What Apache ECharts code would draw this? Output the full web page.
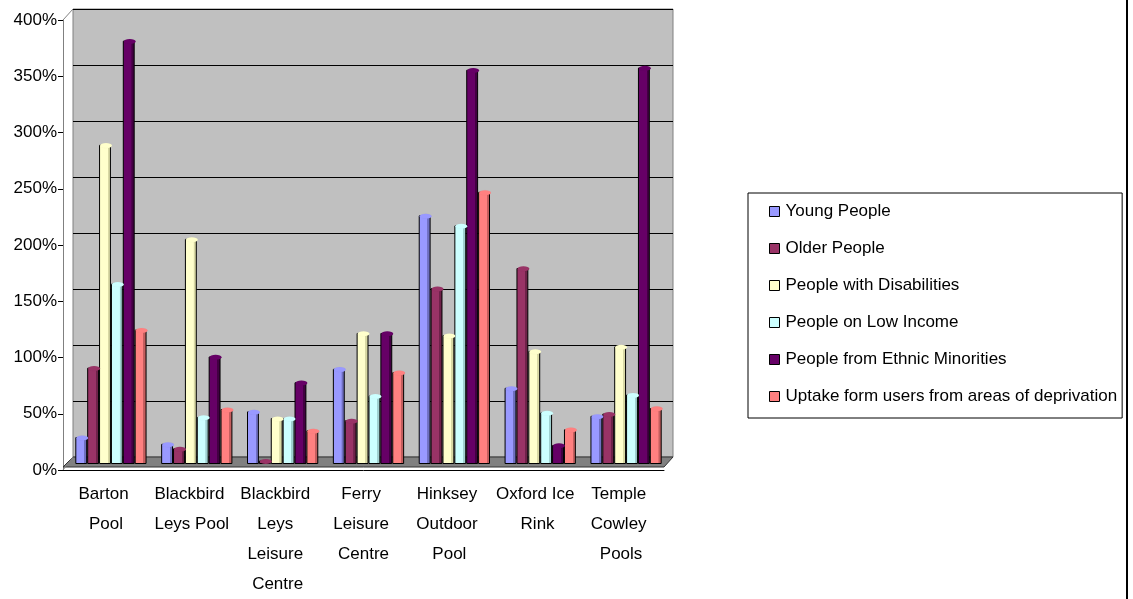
<!DOCTYPE html>
<html>
<head>
<meta charset="utf-8">
<title>Uptake by group</title>
<script src="https://cdn.jsdelivr.net/npm/echarts@6/dist/echarts.min.js"></script>
<style>
    html, body { margin: 0; padding: 0; background: #fff; }
    #main { width: 1133px; height: 599px; }
</style>
</head>
<body>
<div id="main"></div>
<script>
// 数据
var categories = ['Barton Pool', 'Blackbird Leys Pool', 'Blackbird Leys Leisure Centre', 'Ferry Leisure Centre',
    'Hinksey Outdoor Pool', 'Oxford Ice Rink', 'Temple Cowley Pools'];
var seriesNames = ['Young People', 'Older People', 'People with Disabilities', 'People on Low Income',
    'People from Ethnic Minorities', 'Uptake form users from areas of deprivation'];
var young = [24, 18, 47, 85, 222, 68, 43];
var older = [86, 14, 3, 39, 157, 175, 45];
var disabilities = [285, 201, 41, 117, 115, 101, 105];
var lowIncome = [161, 42, 41, 61, 213, 46, 62];
var ethnic = [378, 96, 73, 117, 352, 17, 354];
var deprivation = [120, 49, 30, 82, 243, 31, 50];
var yMax = 400, yStep = 50;

(function () {
    var myChart = echarts.init(document.getElementById('main'));
    var font = 'Liberation Sans, Arial, sans-serif';
    var colors = ['#9999FF', '#993366', '#FFFFCC', '#CCFFFF', '#660066', '#FF8080'];
    var darks = ['#6f6fc0', '#6e2249', '#d8d8a4', '#9fd0d0', '#420042', '#c45e5e'];
    var values = [young, older, disabilities, lowIncome, ethnic, deprivation];

    function barColor(i) {
        return {
            type: 'linear', x: 0, y: 0, x2: 1, y2: 0,
            colorStops: [
                {offset: 0, color: colors[i]},
                {offset: 0.72, color: colors[i]},
                {offset: 0.74, color: darks[i]},
                {offset: 1, color: darks[i]}
            ]
        };
    }

    var series = [];
    for (var i = 0; i < values.length; i++) {
        series.push({
            name: seriesNames[i],
            type: 'bar',
            xAxisIndex: 0,
            yAxisIndex: 0,
            barGap: '0%',
            barCategoryGap: '17%',
            z: 3,
            itemStyle: {color: barColor(i), borderColor: '#000', borderWidth: 1},
            data: values[i]
        });
    }
    // 顶部椭圆
    for (var j = 0; j < values.length; j++) {
        series.push({
            name: seriesNames[j],
            type: 'pictorialBar',
            xAxisIndex: 0,
            yAxisIndex: 0,
            barGap: '0%',
            barCategoryGap: '17%',
            symbol: 'circle',
            symbolSize: ['100%', 5],
            symbolPosition: 'end',
            symbolOffset: [1, '-40%'],
            z: 4,
            itemStyle: {color: colors[j], borderColor: '#000', borderWidth: 1},
            data: values[j]
        });
    }

    var option = {
        animation: false,
        color: colors,
        grid: [
            // 柱子 (中间深度)
            {left: 68, right: 464, top: 16, bottom: 135},
            // 前面的坐标轴
            {left: 63, right: 469, top: 20, bottom: 129},
            // 后墙
            {left: 73, right: 460, top: 9, bottom: 142, show: true,
                backgroundColor: '#C0C0C0', borderColor: '#808080', borderWidth: 1}
        ],
        legend: {
            orient: 'vertical',
            left: 748,
            top: 193,
            padding: [10, 5, 13, 21],
            itemGap: 20,
            itemWidth: 10,
            itemHeight: 10,
            borderColor: '#000',
            borderWidth: 1,
            backgroundColor: '#fff',
            data: seriesNames.map(function (n, k) {
                return {name: n, icon: 'rect', itemStyle: {color: colors[k], borderColor: '#000', borderWidth: 1}};
            }),
            textStyle: {fontFamily: font, fontSize: 17, lineHeight: 17, color: '#000', padding: [0, 0, 0, 1]}
        },
        xAxis: [
            {gridIndex: 0, type: 'category', data: categories, show: false},
            {
                gridIndex: 1, type: 'category', data: categories,
                axisLine: {lineStyle: {color: '#000', width: 1}},
                axisTick: {length: 6, lineStyle: {color: '#000'}},
                axisLabel: {
                    color: '#000', fontFamily: font, fontSize: 17, lineHeight: 30, margin: 9,
                    width: 82, overflow: 'break', interval: 0
                }
            },
            {gridIndex: 2, type: 'category', data: categories, show: false}
        ],
        yAxis: [
            {gridIndex: 0, type: 'value', min: 0, max: yMax, interval: yStep, show: false},
            {
                gridIndex: 1, type: 'value', min: 0, max: yMax, interval: yStep,
                axisLine: {show: true, lineStyle: {color: '#808080'}},
                axisTick: {show: true, length: 5, lineStyle: {color: '#000'}},
                splitLine: {show: false},
                axisLabel: {
                    color: '#000', fontFamily: font, fontSize: 17, margin: 6,
                    formatter: '{value}%'
                }
            },
            {
                gridIndex: 2, type: 'value', min: 0, max: yMax, interval: yStep,
                axisLine: {show: false}, axisTick: {show: false}, axisLabel: {show: false},
                splitLine: {show: true, lineStyle: {color: '#000', width: 1}}
            }
        ],
        graphic: [
            // 地板
            {type: 'polygon', z: 1, shape: {points: [[63, 467], [664, 467], [673, 457], [73, 457]]},
                style: {fill: '#808080', stroke: '#333', lineWidth: 1}},
            // 左侧斜线
            {type: 'line', z: 1, shape: {x1: 63, y1: 20, x2: 73, y2: 9}, style: {stroke: '#808080', lineWidth: 1}},
            {type: 'line', z: 1, shape: {x1: 63, y1: 470, x2: 73, y2: 457}, style: {stroke: '#808080', lineWidth: 1}},
            // 右边框
            {type: 'line', z: 1, shape: {x1: 1127, y1: 0, x2: 1127, y2: 599}, style: {stroke: '#000', lineWidth: 2}}
        ],
        series: series
    };

    myChart.setOption(option);
})();
</script>
</body>
</html>
